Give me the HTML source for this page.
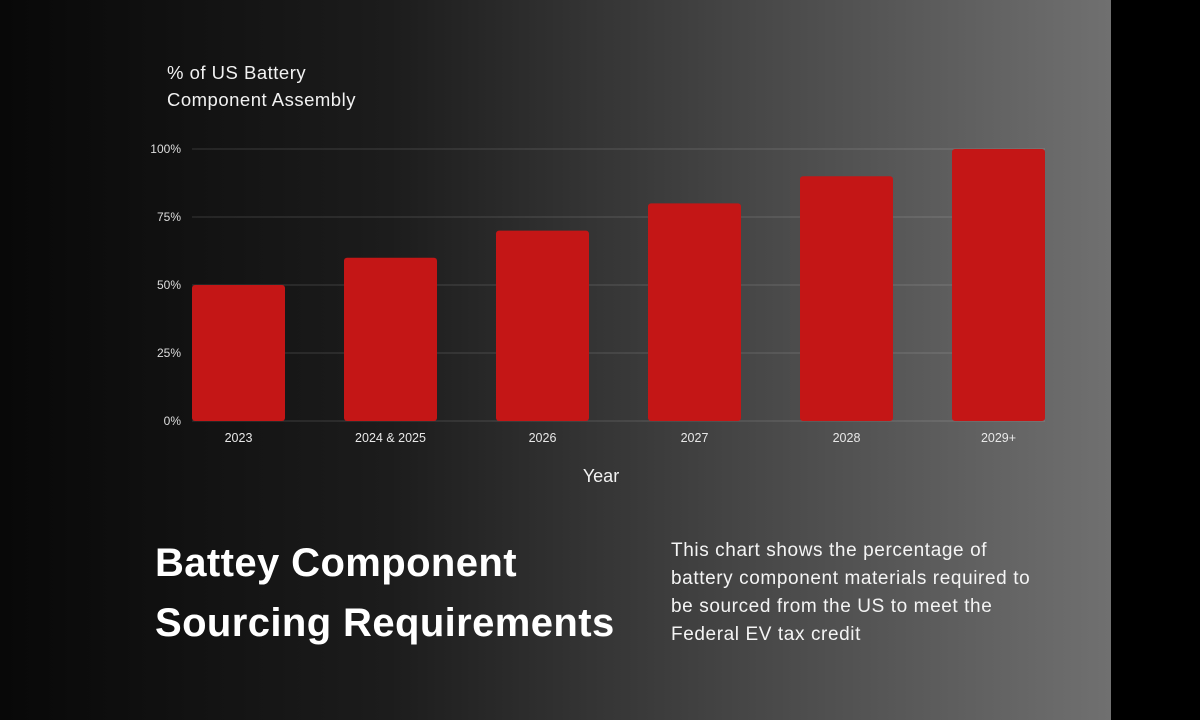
<!DOCTYPE html>
<html><head><meta charset="utf-8"><style>
body{margin:0;width:1200px;height:720px;overflow:hidden;background:#000;font-family:"Liberation Sans",sans-serif;}
#bg{position:absolute;left:0;top:0;width:1111px;height:720px;background:linear-gradient(90deg,#080808 0%,#1c1c1c 35%,#4a4a4a 70%,#707070 100%);}
#strip{position:absolute;left:1111px;top:0;width:89px;height:720px;background:#000;}
svg{position:absolute;left:0;top:0;}
</style></head><body>
<div id="bg"></div>
<div id="strip"></div>
<svg width="1200" height="720" id="chart">
<text x="167" y="79" fill="#f2f2f2" font-size="18.5" letter-spacing="0.5">% of US Battery</text>
<text x="167" y="106" fill="#f2f2f2" font-size="18.5" letter-spacing="0.5">Component Assembly</text>
<text x="601" y="482" fill="#f2f2f2" font-size="18" text-anchor="middle">Year</text>
<g id="grid"></g><g id="bars"></g><g id="labels"></g>
<text x="155" y="576" fill="#fff" font-size="40" font-weight="bold" letter-spacing="0.4">Battey Component</text>
<text x="155" y="636" fill="#fff" font-size="40" font-weight="bold" letter-spacing="0.4">Sourcing Requirements</text>
<g fill="#f4f4f4" font-size="19" letter-spacing="0.6">
<text x="671" y="556">This chart shows the percentage of</text>
<text x="671" y="584">battery component materials required to</text>
<text x="671" y="612">be sourced from the US to meet the</text>
<text x="671" y="640">Federal EV tax credit</text>
</g>
</svg>
<script>
const categories=["2023","2024 & 2025","2026","2027","2028","2029+"];
const values=[50,60,70,80,90,100];
const ticks=[0,25,50,75,100];
const tickLabels=["0%","25%","50%","75%","100%"];
const ns="http://www.w3.org/2000/svg";
const x0=192,band=152,bw=93;
const y=v=>421-v*2.72;
const xc=i=>x0+bw/2+i*band;
const g=document.getElementById('grid'),b=document.getElementById('bars'),l=document.getElementById('labels');
function mk(t,a,p){const e=document.createElementNS(ns,t);for(const k in a)e.setAttribute(k,a[k]);p.appendChild(e);return e;}
ticks.forEach((t,i)=>{
 const ln=mk('line',{x1:x0,x2:x0+5*band+bw,y1:y(t),y2:y(t),stroke:'rgba(255,255,255,0.13)','stroke-width':1.2},g);
 
 
 const tx=mk('text',{x:181,y:y(t)+4,fill:'#ddd','font-size':12,'text-anchor':'end'},g);
 tx.textContent=tickLabels[i];
 
 
});
values.forEach((v,i)=>{
 const r=mk('rect',{x:xc(i)-bw/2,y:y(v),width:bw,height:y(0)-y(v),rx:3,fill:'#c41616'},b);
 
 
 const tx=mk('text',{x:xc(i),y:442,fill:'#e8e8e8','font-size':12.5,'text-anchor':'middle'},l);
 tx.textContent=categories[i];
 
 
});
</script>
</body></html>
